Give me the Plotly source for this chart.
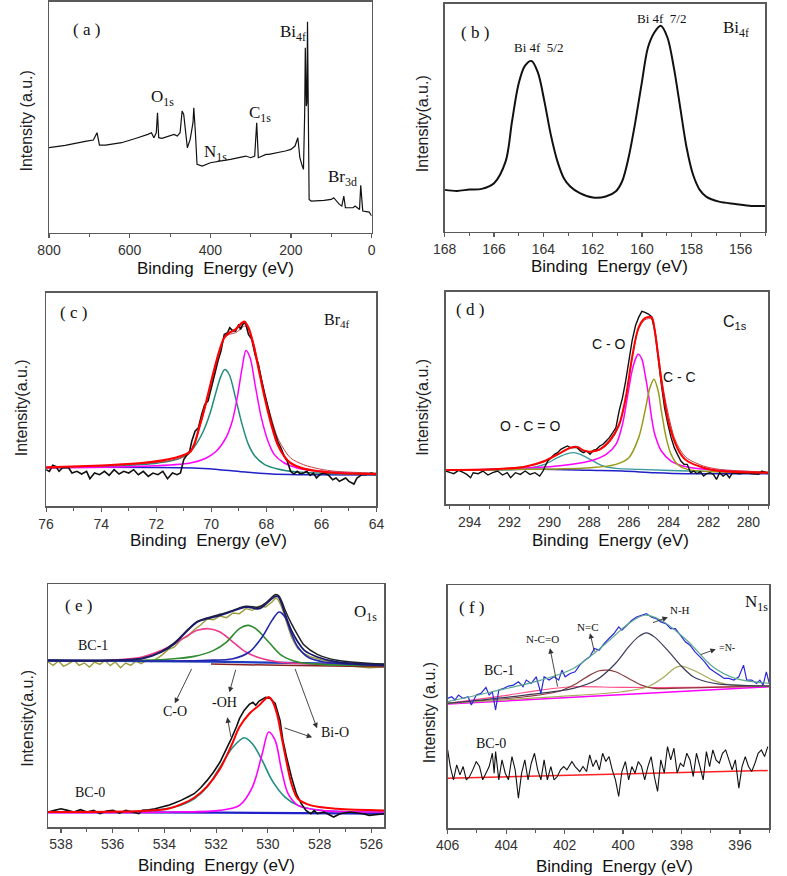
import plotly.graph_objects as go

SERIF = "Liberation Serif"
SANS = "Liberation Sans"

# ---------------- (a) survey ----------------
a_energy = [800,760,707,690,681,675,660,620,580,555,
            546,540,534,531,528,520,490,482,475,470,
            466,457,450,443,441,437,433,420,400,350,
            312,300,290,285,281,262,255,214,200,190,
            183,178,172,169,166,164.5,162,160.5,159,157,
            155,150,118,100,94,80,74,69,65,46,
            41,30,27,22,6,0]
a_intensity = [255,262,275,278,300,263,263,270,285,295,
               300,285,300,360,285,283,295,290,300,365,
               355,255,280,330,375,300,205,200,210,220,
               230,225,230,330,225,235,235,245,250,260,
               285,225,200,190,360,555,380,390,633,360,
               100,95,97,100,105,85,80,110,75,75,
               80,70,142,65,62,50]

# ---------------- (b) Bi 4f ----------------
b_energy = [168.0,167.5,167.0,166.5,166.0,165.53,165.27,165.01,164.75,164.48,
            164.22,163.96,163.70,163.43,163.17,162.91,162.52,161.99,161.47,161.07,
            160.81,160.55,160.29,160.02,159.76,159.50,159.24,158.97,158.71,158.45,
            158.19,157.93,157.66,157.40,156.88,156.22,155.56,155.0]
b_intensity = [125,122,126,128,145,210,330,440,495,510,
               475,390,290,210,160,135,115,102,105,120,
               150,220,320,440,550,595,615,580,490,370,
               250,170,125,105,90,83,77,77]

# ---------------- (c) Br 4f ----------------
c_raw_energy = [76.00,75.88,75.76,75.65,75.53,75.41,75.29,75.18,75.06,74.88,
                74.71,74.53,74.41,74.24,74.06,73.88,73.71,73.53,73.35,73.18,
                73.00,72.82,72.65,72.47,72.29,72.12,71.94,71.76,71.59,71.41,
                71.24,71.12,71.00,70.88,70.79,70.71,70.59,70.47,70.35,70.24,
                70.12,70.00,69.88,69.76,69.65,69.53,69.41,69.33,69.24,69.12,
                69.00,68.94,68.86,68.76,68.65,68.53,68.41,68.29,68.18,68.06,
                67.94,67.82,67.71,67.59,67.47,67.35,67.24,67.12,67.00,66.88,
                66.76,66.65,66.53,66.41,66.29,66.18,66.06,65.94,65.76,65.59,
                65.47,65.35,65.24,65.12,65.00,64.82,64.71,64.53,64.41,64.29,
                64.18,64.00]
c_raw = [110,105,123,120,105,115,117,115,100,105,
         97,105,83,100,95,105,93,110,97,105,
         100,110,95,105,90,100,95,105,83,100,
         95,100,140,155,165,195,225,235,275,305,
         315,355,395,435,465,515,520,535,527,525,
         545,530,545,550,515,500,455,425,380,335,
         295,255,225,195,175,150,135,105,97,105,
         97,100,105,93,100,85,95,100,95,80,
         85,75,80,85,75,67,85,95,95,97,
         100,95]
c_env_energy = [76.0,72.53,71.35,70.76,70.41,70.18,69.94,69.71,69.53,69.35,
                69.12,68.88,68.79,68.65,68.47,68.29,68.06,67.82,67.59,67.35,
                67.12,66.65,66.06,65.47,64.0]
c_env = [117,130,145,165,245,315,395,465,505,520,
         530,550,553,535,485,415,325,245,185,150,
         130,113,105,100,97]
c_env2 = [115,128,140,160,240,310,390,460,505,515,
          520,535,540,530,490,425,340,265,205,170,
          145,125,112,105,100]
c_teal_energy = [76.0,73.71,71.94,71.12,70.65,70.29,70.06,69.82,69.65,69.51,
                 69.35,69.12,68.88,68.65,68.41,68.06,67.59,66.88,65.47,64.0]
c_teal = [115,120,130,145,175,225,275,345,390,410,
          395,325,245,185,150,125,112,103,98,95]
c_mag_energy = [76.0,72.53,70.76,70.18,69.82,69.47,69.24,69.06,68.88,68.74,
                68.59,68.41,68.18,67.94,67.71,67.35,66.88,66.06,64.0]
c_mag = [115,120,130,145,165,205,255,325,415,467,
         445,365,265,195,155,130,115,105,97]
c_base_energy = [76.0,70.65,69.71,68.76,67.82,66.65,64.0]
c_base = [117,115,110,103,97,95,94]

# ---------------- (d) C 1s ----------------
d_raw_energy = [295.20,294.96,294.79,294.55,294.30,294.14,293.95,293.82,293.57,293.33,
                293.08,292.84,292.59,292.35,292.11,291.94,291.70,291.45,291.21,290.97,
                290.72,290.48,290.31,290.20,290.07,289.91,289.74,289.58,289.42,289.26,
                289.09,288.93,288.77,288.60,288.44,288.28,288.12,287.95,287.79,287.63,
                287.46,287.30,287.14,286.98,286.81,286.65,286.49,286.32,286.16,286.00,
                285.84,285.67,285.51,285.35,285.19,285.02,284.86,284.70,284.53,284.37,
                284.21,284.04,283.88,283.72,283.56,283.39,283.23,283.07,282.90,282.74,
                282.58,282.41,282.25,282.09,281.93,281.76,281.60,281.44,281.27,281.11,
                280.95,280.79,280.46,280.13,279.81,279.48,279.32,279.00]
d_raw = [100,95,92,102,95,90,80,95,92,100,
         88,95,100,88,95,80,95,90,100,90,
         95,85,100,115,130,140,150,155,165,170,
         175,170,170,170,160,155,160,150,162,165,
         175,180,190,200,215,230,280,320,370,430,
         490,535,560,578,575,570,562,520,440,360,
         290,240,200,170,150,130,120,120,95,100,
         92,98,85,92,95,90,75,95,85,92,
         80,95,92,95,92,90,100,92]
d_env_energy = [295.2,292.84,291.21,290.23,289.58,288.93,288.60,288.28,287.95,287.46,
                286.98,286.49,286.16,285.84,285.51,285.19,284.86,284.70,284.53,284.37,
                284.21,284.04,283.72,283.39,283.07,282.25,281.44,279.0]
d_env = [103,105,113,130,150,170,172,162,158,165,
         190,240,320,440,530,558,560,520,445,370,
         310,255,190,150,130,110,100,95]
d_env2 = [104,106,114,128,148,168,170,160,157,163,
          185,235,315,435,525,553,555,525,455,385,
          325,275,200,160,138,115,105,97]
d_teal_energy = [295.2,291.21,290.23,289.58,289.09,288.77,288.44,287.95,287.30,286.65,
                 285.51,283.07,279.0]
d_teal = [103,107,120,140,152,155,150,135,115,108,105,100,95]
d_mag_energy = [295.2,292.02,289.58,287.95,287.14,286.65,286.32,286.08,285.84,285.67,
                285.54,285.35,285.19,285.02,284.86,284.70,284.37,283.88,283.07,281.44,
                279.0]
d_mag = [103,107,115,130,150,180,240,320,400,435,
         450,435,390,330,260,210,160,130,112,102,95]
d_olive_energy = [295.2,291.21,287.95,286.65,286.00,285.51,285.19,284.94,284.74,284.53,
                  284.37,284.13,283.88,283.56,283.07,281.44,279.0]
d_olive = [103,105,110,120,140,200,280,350,375,340,280,200,150,120,105,98,95]
d_base_energy = [295.2,290.5,287.95,286.32,284.7,283.07,279.0]
d_base = [103,105,102,100,95,92,92]

# ---------------- (e) O 1s ----------------
e1_raw_energy = [538.50,538.30,538.10,537.90,537.70,537.50,537.30,537.10,536.90,536.70,
                 536.50,536.30,536.10,535.90,535.70,535.50,535.30,535.10,534.90,534.70,
                 534.50,534.30,534.11,533.86,533.61,533.36,533.10,532.85,532.60,532.35,
                 532.10,531.85,531.60,531.35,531.10,530.85,530.60,530.34,530.09,529.84,
                 529.69,529.59,529.47,529.34,529.22,529.09,528.96,528.84,528.59,528.34,
                 527.83,527.33,526.71,526.08,525.5]
e1_raw = [495,485,498,482,490,500,485,492,480,495,
          488,500,484,495,478,492,485,498,490,500,
          496,505,515,532,540,562,572,592,606,624,
          622,633,628,642,640,655,650,662,660,675,
          688,680,660,630,600,570,550,535,520,510,
          500,492,482,478,480]
e1_env_energy = [538.5,536.12,534.86,534.11,533.61,533.10,532.73,532.35,531.85,531.35,
                 530.85,530.34,530.09,529.84,529.72,529.59,529.47,529.34,529.09,528.84,
                 528.59,528.09,527.33,525.5]
e1_env_navy = [500,500,505,525,550,590,615,625,635,648,
               660,655,668,685,692,690,670,640,590,555,
               530,510,495,485]
e1_env_black = [500,500,506,527,553,592,617,627,638,650,
                662,660,672,690,697,694,678,652,610,575,
                545,518,500,488]
e1_co_energy = [538.5,536.12,534.86,534.11,533.61,533.10,532.73,532.29,531.85,531.35,
                530.85,530.34,529.59,528.59,525.5]
e1_co = [498,500,510,530,550,575,590,595,585,555,525,508,495,490,485]
e1_oh_energy = [538.5,534.86,533.61,532.85,532.10,531.60,531.10,530.76,530.47,529.97,
                529.47,528.84,527.96,525.5]
e1_oh = [498,500,505,512,530,555,595,605,595,555,515,495,488,485]
e1_bio_energy = [538.5,533.61,532.35,531.35,530.72,530.22,529.84,529.57,529.34,529.09,
                 528.84,528.46,527.83,525.5]
e1_bio = [498,498,500,505,525,570,620,645,630,580,540,510,495,485]
e1_base_energy = [538.5,532.2,525.5]
e1_base = [500,496,488]
e1_base2_energy = [532.2,529.5,525.5]
e1_base2 = [489,485,481]

e0_raw_energy = [538.50,538.25,538.00,537.75,537.50,537.25,536.99,536.74,536.49,536.24,
                 535.99,535.74,535.49,535.24,534.99,534.86,534.61,534.36,534.11,533.86,
                 533.61,533.36,533.10,532.85,532.60,532.35,532.10,531.85,531.60,531.41,
                 531.22,531.10,530.92,530.72,530.58,530.47,530.34,530.09,529.91,529.72,
                 529.53,529.42,529.28,529.09,528.90,528.71,528.53,528.34,528.21,528.09,
                 527.83,527.46,527.21,526.83,526.33,526.08,525.5]
e0_raw = [45,50,55,50,45,52,45,50,40,48,
          50,42,50,45,40,50,52,55,60,65,
          72,80,90,100,118,140,165,195,235,266,
          300,325,350,368,374,365,378,389,386,371,
          320,260,210,150,100,70,50,40,50,40,
          45,30,40,45,40,35,40]
e0_env_energy = [538.5,534.86,533.86,533.36,532.85,532.35,531.85,531.41,531.10,530.72,
                 530.34,530.09,529.97,529.84,529.65,529.47,529.28,529.09,528.84,528.34,
                 527.33,525.5]
e0_env = [45,48,55,68,88,122,175,245,300,340,
          365,385,390,380,340,270,195,130,85,65,55,50]
e0_oh_energy = [538.5,534.86,533.61,532.85,532.35,531.85,531.35,530.91,530.60,530.22,
                529.84,529.34,528.84,527.96,525.5]
e0_oh = [45,48,60,85,120,180,240,268,250,200,140,90,65,50,45]
e0_bio_energy = [538.5,533.61,531.85,531.10,530.60,530.22,529.97,529.72,529.47,529.22,
                 528.84,527.96,525.5]
e0_bio = [43,45,50,65,120,220,285,260,170,100,65,50,45]
e0_base_energy = [538.5,531.72,525.5]
e0_base = [45,43,40]

# ---------------- (f) N 1s ----------------
f1_raw_energy = [406.00,405.86,405.75,405.63,405.47,405.30,405.19,405.02,404.86,404.69,
                 404.58,404.47,404.36,404.25,404.08,403.92,403.75,403.58,403.42,403.31,
                 403.14,402.97,402.81,402.70,402.53,402.36,402.20,402.09,401.98,401.81,
                 401.64,401.48,401.31,401.14,400.98,400.82,400.65,400.48,400.31,400.15,
                 400.04,399.87,399.70,399.54,399.37,399.20,399.04,398.87,398.71,398.54,
                 398.37,398.21,398.04,397.87,397.71,397.54,397.37,397.21,397.04,396.88,
                 396.71,396.54,396.38,396.21,396.04,395.88,395.77,395.60,395.43,395.32,
                 395.21,395.10,395.00]
f1_raw = [390,395,385,400,390,395,370,400,405,423,
          400,410,355,415,420,427,430,440,425,445,
          435,455,405,455,445,455,445,475,455,465,
          470,490,505,515,540,535,555,570,585,605,
          595,610,625,635,640,645,635,630,620,615,
          600,600,580,560,550,530,515,500,480,470,
          460,450,450,445,455,490,445,445,435,445,
          430,470,435]
f1_env_energy = [406.0,404.47,402.81,401.70,400.59,399.81,399.26,398.71,397.82,396.93,396.16,395.0]
f1_env = [380,410,445,480,555,615,640,625,565,485,450,435]
f1_nh_energy = [406.0,403.36,401.70,400.92,400.26,399.81,399.48,399.20,398.93,398.48,
                398.04,397.60,397.15,396.71,395.0]
f1_nh = [375,400,420,445,495,545,575,587,575,535,490,455,440,433,427]
f1_nc_energy = [406.0,403.36,402.25,401.59,401.14,400.81,400.53,400.26,399.81,399.37,
                398.93,398.37,395.0]
f1_nc = [375,395,410,435,460,473,475,470,450,430,420,420,427]
f1_n_energy = [406.0,402.25,400.04,399.15,398.59,398.26,398.06,397.82,397.37,396.93,396.49,395.0]
f1_n = [375,395,410,425,455,480,487,483,465,445,433,427]
f1_base_energy = [406.0,395.0]
f1_base = [373,425]
f1_base2_energy = [406.0,403.92,402.81,401.70,400.04,397.82,395.0]
f1_base2 = [375,400,415,425,423,423,427]

f0_raw_energy = [406.00,405.91,405.80,405.69,405.58,405.47,405.36,405.25,405.14,405.02,
                 404.91,404.80,404.69,404.58,404.47,404.41,404.36,404.25,404.14,404.03,
                 403.92,403.80,403.69,403.58,403.47,403.36,403.25,403.14,403.03,402.92,
                 402.81,402.70,402.59,402.47,402.36,402.25,402.14,402.03,401.92,401.75,
                 401.64,401.48,401.37,401.25,401.14,401.03,400.92,400.81,400.70,400.59,
                 400.48,400.37,400.26,400.15,400.04,399.92,399.81,399.70,399.59,399.48,
                 399.37,399.26,399.15,399.04,398.93,398.82,398.71,398.59,398.48,398.37,
                 398.26,398.15,398.04,397.93,397.82,397.71,397.60,397.49,397.37,397.26,
                 397.15,397.04,396.93,396.82,396.71,396.60,396.49,396.38,396.27,396.16,
                 396.04,395.93,395.82,395.71,395.60,395.49,395.38,395.27,395.16,395.05]
f0_raw = [235,185,145,190,160,185,145,155,175,200,
          185,145,165,185,225,165,230,145,205,165,
          145,215,175,90,165,205,145,195,225,175,
          145,205,145,185,145,155,175,185,175,200,
          185,170,185,170,220,185,205,175,225,200,
          215,175,145,95,170,200,145,185,165,200,
          185,145,185,215,155,110,205,165,245,205,
          240,165,195,185,225,205,155,225,185,145,
          230,185,235,205,195,225,235,205,175,205,
          120,185,215,185,170,195,225,235,215,245]
f0_base_energy = [406.0,395.05]
f0_base = [150,173]

# ---------------- figure ----------------
W, H = 787, 876
fig = go.Figure()

# panel boxes in pixels: left, right, top, bottom
boxes = {
    1: (38, 369, 1, 232),
    2: (444, 773, 3, 231),
    3: (35, 374, 292, 506),
    4: (445, 776, 291, 504),
    5: (37, 382, 584, 827),
    6: (447, 777, 585, 828),
}
xranges = {1: [800, 0], 2: [168, 155], 3: [76, 64], 4: [295.2, 279.0],
           5: [538.5, 525.5], 6: [406, 395]}
yranges = {1: [0, 692], 2: [0, 680], 3: [0, 640], 4: [0, 637], 5: [0, 728], 6: [0, 730]}
dticks = {1: (200, 100), 2: (2, 1), 3: (2, 1), 4: (2, 1), 5: (2, 1), 6: (2, 1)}

FRAME = "#5a5a5a"
layout = {}
for k, (l, r, t, b) in boxes.items():
    xs = "" if k == 1 else str(k)
    layout["xaxis" + xs] = dict(
        domain=[l / W, r / W], anchor="y" + xs, range=xranges[k],
        showline=True, linecolor=FRAME, linewidth=1.5, mirror=True,
        ticks="outside", ticklen=4, tickwidth=1.2, tickcolor=FRAME,
        tick0=0, dtick=dticks[k][0],
        minor=dict(ticks="outside", ticklen=3, tickwidth=1, tickcolor=FRAME,
                   tick0=0, dtick=dticks[k][1]),
        tickfont=dict(family=SANS, size=14, color="#333333"),
        showgrid=False, zeroline=False, fixedrange=True)
    layout["yaxis" + xs] = dict(
        domain=[1 - b / H, 1 - t / H], anchor="x" + xs, range=yranges[k],
        showline=True, linecolor=FRAME, linewidth=1.5, mirror=True,
        ticks="", showticklabels=False, showgrid=False, zeroline=False,
        fixedrange=True)
fig.update_layout(**layout)


def add(k, x, y, color, width=1.2, smooth=False):
    xs = "" if k == 1 else str(k)
    fig.add_trace(go.Scatter(
        x=x, y=y, mode="lines",
        line=dict(color=color, width=width, simplify=False,
                  shape="spline" if smooth else "linear", smoothing=0.9),
        xaxis="x" + xs, yaxis="y" + xs, showlegend=False, hoverinfo="skip"))


# (a)
add(1, a_energy, a_intensity, "#111111", 1.2)
# (b)
add(2, b_energy, b_intensity, "#111111", 2.0, smooth=True)
# (c)
add(3, c_base_energy, c_base, "#2020c8", 1.5, smooth=True)
add(3, c_teal_energy, c_teal, "#218b7c", 1.5, smooth=True)
add(3, c_mag_energy, c_mag, "#ff00ff", 1.5, smooth=True)
add(3, c_env_energy, c_env2, "#c04040", 1.0, smooth=True)
add(3, c_raw_energy, c_raw, "#111111", 1.6)
add(3, c_env_energy, c_env, "#ff0000", 2.2, smooth=True)
# (d)
add(4, d_base_energy, d_base, "#2020c8", 1.5, smooth=True)
add(4, d_teal_energy, d_teal, "#3a9a9a", 1.4, smooth=True)
add(4, d_mag_energy, d_mag, "#ff00ff", 1.5, smooth=True)
add(4, d_olive_energy, d_olive, "#9a9a1a", 1.5, smooth=True)
add(4, d_env_energy, d_env2, "#c04040", 1.0, smooth=True)
add(4, d_raw_energy, d_raw, "#111111", 1.4)
add(4, d_env_energy, d_env, "#ff0000", 2.0, smooth=True)
# (e) BC-1
add(5, e1_raw_energy, e1_raw, "#9c9c3c", 1.4)
add(5, e1_base_energy, e1_base, "#1c3cc0", 2.2)
add(5, e1_base2_energy, e1_base2, "#8b2020", 1.5)
add(5, e1_co_energy, e1_co, "#ee3a8c", 1.6, smooth=True)
add(5, e1_oh_energy, e1_oh, "#2e8b2e", 1.6, smooth=True)
add(5, e1_bio_energy, e1_bio, "#2424b0", 1.6, smooth=True)
add(5, e1_env_energy, e1_env_black, "#222222", 1.5, smooth=True)
add(5, e1_env_energy, e1_env_navy, "#1b1b6b", 1.8, smooth=True)
# (e) BC-0
add(5, e0_base_energy, e0_base, "#2020c8", 2.2)
add(5, e0_oh_energy, e0_oh, "#1f8f80", 1.6, smooth=True)
add(5, e0_bio_energy, e0_bio, "#ff00ff", 1.6, smooth=True)
add(5, e0_raw_energy, e0_raw, "#111111", 1.6)
add(5, e0_env_energy, e0_env, "#ff0000", 2.0, smooth=True)
# (f) BC-1
add(6, f1_base_energy, f1_base, "#ff00ff", 1.5)
add(6, f1_base2_energy, f1_base2, "#ff4d8a", 1.2, smooth=True)
add(6, f1_nc_energy, f1_nc, "#8b3a3a", 1.2, smooth=True)
add(6, f1_n_energy, f1_n, "#a8a85a", 1.2, smooth=True)
add(6, f1_nh_energy, f1_nh, "#3a3a58", 1.2, smooth=True)
add(6, f1_raw_energy, f1_raw, "#2a2adc", 1.2)
add(6, f1_env_energy, f1_env, "#5aa890", 1.2, smooth=True)
# (f) BC-0
add(6, f0_base_energy, f0_base, "#ff2020", 1.5)
add(6, f0_raw_energy, f0_raw, "#111111", 1.1)

annotations = []


def lab(px, py, text, size, family=SERIF, xanchor="center"):
    annotations.append(dict(
        x=px / W, y=1 - py / H, xref="paper", yref="paper", text=text,
        showarrow=False, xanchor=xanchor, yanchor="middle",
        font=dict(family=family, size=size, color="#111111")))


def arrow(k, hx, hy, tx, ty):
    xs = "" if k == 1 else str(k)
    annotations.append(dict(
        x=hx, y=hy, ax=tx, ay=ty, xref="x" + xs, yref="y" + xs,
        axref="x" + xs, ayref="y" + xs, text="", showarrow=True,
        arrowhead=2, arrowsize=1.2, arrowwidth=0.9, arrowcolor="#333333"))


# axis titles
xt = "Binding  Energy (eV)"
for px, py in [(209, 268), (613, 266), (202, 540), (614, 540), (210, 865), (618, 866)]:
    lab(px, py, xt, 17, SANS)
for px, py, t in [(15, 120, "Intensity (a.u.)"), (422, 123, "Intensity(a.u.)"),
                  (10, 407, "Intensity(a.u.)"), (421, 407, "Intensity(a.u.)"),
                  (16, 718, "Intensity(a.u.)"), (428, 713, "Intensity (a.u.)")]:
    annotations.append(dict(
        x=px / W, y=1 - py / H, xref="paper", yref="paper", text=t,
        showarrow=False, textangle=-90, xanchor="center", yanchor="middle",
        font=dict(family=SANS, size=16, color="#222222")))

# (a)
lab(76, 29, "( a )", 17)
lab(141, 97, "O<sub>1s</sub>", 17, xanchor="left")
lab(195, 152, "N<sub>1s</sub>", 17, xanchor="left")
lab(241, 113, "C<sub>1s</sub>", 17, xanchor="left")
lab(273, 32, "Bi<sub>4f</sub>", 17, xanchor="left")
lab(322, 177, "Br<sub>3d</sub>", 17, xanchor="left")
# (b)
lab(475, 32, "( b )", 17)
lab(540, 47, "Bi 4f  5/2", 13)
lab(666, 18, "Bi 4f  7/2", 13)
lab(727, 28, "Bi<sub>4f</sub>", 17, xanchor="left")
# (c)
lab(63, 312, "( c )", 17)
lab(318, 320, "Br<sub>4f</sub>", 16, xanchor="left")
# (d)
lab(470, 309, "( d )", 17)
lab(727, 322, "C<sub>1s</sub>", 16, SANS, xanchor="left")
lab(613, 343, "C - O", 14, SANS)
lab(685, 376, "C - C", 14, SANS)
lab(531, 425, "O - C = O", 14, SANS)
# (e)
lab(68, 605, "( e )", 17)
lab(349, 613, "O<sub>1s</sub>", 17, xanchor="left")
lab(83, 645, "BC-1", 14)
lab(80, 792, "BC-0", 14)
lab(167, 711, "C-O", 14)
lab(218, 702, "-OH", 14)
lab(331, 732, "Bi-O", 14)
arrow(5, 533.60, 371, 532.92, 479)
arrow(5, 531.49, 404, 531.23, 476)
arrow(5, 531.57, 329, 531.42, 266)
arrow(5, 528.10, 296, 528.97, 479)
arrow(5, 528.29, 269, 529.42, 299)
# (f)
lab(471, 607, "( f )", 17)
lab(750, 603, "N<sub>1s</sub>", 17, xanchor="left")
lab(500, 670, "BC-1", 14)
lab(492, 743, "BC-0", 14)
lab(544, 639, "N-C=O", 11)
lab(591, 627, "N=C", 11)
lab(685, 610, "N-H", 11)
lab(734, 647, "=N-", 10)
arrow(6, 402.50, 541, 402.23, 421)
arrow(6, 401.13, 586, 400.97, 526)
arrow(6, 398.47, 634, 399.03, 616)
arrow(6, 396.83, 538, 397.40, 520)

fig.update_layout(
    width=W, height=H, margin=dict(l=0, r=0, t=0, b=0),
    paper_bgcolor="white", plot_bgcolor="white",
    annotations=annotations, showlegend=False)

fig.write_html(
    "out.html",
    config={"displayModeBar": False, "staticPlot": True},
    post_script="document.body.style.margin='0px';"
                "document.body.style.padding='0px';"
                "document.body.style.overflow='hidden';")
